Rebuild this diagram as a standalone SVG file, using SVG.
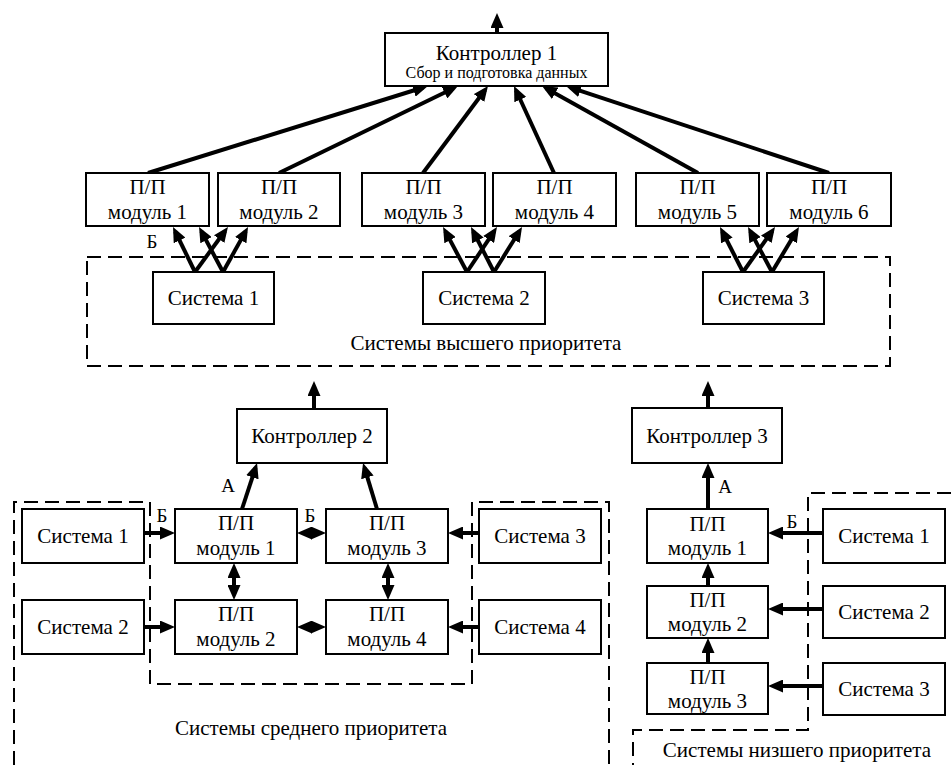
<svg xmlns="http://www.w3.org/2000/svg" width="951" height="765" viewBox="0 0 951 765">
<style>
.box{fill:#fff;stroke:#000;stroke-width:2}
text{font-family:"Liberation Serif","Times New Roman",serif;font-size:21px;text-anchor:middle;fill:#000}
.s{font-size:16px}
.l{font-size:19px}
.dash{fill:none;stroke:#000;stroke-width:2;stroke-dasharray:14 7}
.a{stroke:#000;stroke-width:4;fill:none;marker-end:url(#ah)}
.b{marker-start:url(#ah)}
</style>
<defs>
<marker id="ah" viewBox="0 0 15 13" markerWidth="15" markerHeight="13" refX="10" refY="6.5" orient="auto-start-reverse" markerUnits="userSpaceOnUse">
<path d="M0,0 L15,6.5 L0,13 z" fill="#000"/>
</marker>
</defs>
<g id="regions">
<rect class="dash" x="87" y="257" width="803" height="109"/>
<path class="dash" d="M14,765 V502 H150 V684 H472 V502 H609 V765"/>
<path class="dash" d="M951,493 H808 V730 H633 V765"/>
<text x="486" y="350">Системы высшего приоритета</text>
<text x="311" y="735">Системы среднего приоритета</text>
<text x="797" y="757">Системы низшего приоритета</text>
</g>
<g id="connectors">
<path class="a" d="M497,33 V18"/>
<path class="a" d="M148,173 L423.2,87.5"/>
<path class="a" d="M279,173 L453.5,88.2"/>
<path class="a" d="M423,173 L485,90"/>
<path class="a" d="M554,173 L516.1,90.5"/>
<path class="a" d="M698,173 L546.4,88.4"/>
<path class="a" d="M829,173 L570.7,87.6"/>
<path class="a" d="M195,272 L175.2,231.5"/>
<path class="a" d="M195,272 L225,231"/>
<path class="a" d="M223,272 L201.4,231.4"/>
<path class="a" d="M223,272 L245.6,231.4"/>
<path class="a" d="M467,272 L445.4,231.4"/>
<path class="a" d="M467,272 L494.2,231.2"/>
<path class="a" d="M494,272 L473.3,231.5"/>
<path class="a" d="M494,272 L519.4,231.2"/>
<path class="a" d="M743,272 L722.3,231.5"/>
<path class="a" d="M743,272 L772.1,231.1"/>
<path class="a" d="M772,272 L750.4,231.4"/>
<path class="a" d="M772,272 L796.4,231.3"/>
<path class="a" d="M314,409 V386"/>
<path class="a" d="M708,408 V386"/>
<path class="a" d="M242,509 L255.5,467.8"/>
<path class="a" d="M377,509 L364.5,467.8"/>
<path class="a" d="M144,533 H170"/>
<path class="a" d="M144,627 H170"/>
<path class="a" d="M479,533 H453"/>
<path class="a" d="M479,627 H453"/>
<path class="a b" d="M302,533 H321"/>
<path class="a b" d="M302,627 H321"/>
<path class="a b" d="M234,568 V595"/>
<path class="a b" d="M388,568 V595"/>
<path class="a" d="M708,509 V468"/>
<path class="a" d="M823,533 H773"/>
<path class="a" d="M823,609 H773"/>
<path class="a" d="M823,686 H773"/>
<path class="a" d="M708,586 V568"/>
<path class="a" d="M708,663 V643"/>
<text class="l" x="152" y="248">Б</text>
<text class="l" x="228" y="492">А</text>
<text class="l" x="162" y="522">Б</text>
<text class="l" x="310" y="522">Б</text>
<text class="l" x="725" y="493">А</text>
<text class="l" x="792" y="528">Б</text>
</g>
<g id="ctrl1"><rect class="box" x="385" y="33" width="223" height="53"/><text x="496.5" y="60">Контроллер 1</text><text class="s" x="496.5" y="78">Сбор и подготовка данных</text></g>
<g id="pm1"><rect class="box" x="86" y="173" width="123" height="53"/><text x="147.5" y="194">П/П</text><text x="147.5" y="219">модуль 1</text></g>
<g id="pm2"><rect class="box" x="218" y="173" width="122" height="53"/><text x="279" y="194">П/П</text><text x="279" y="219">модуль 2</text></g>
<g id="pm3"><rect class="box" x="362" y="173" width="123" height="53"/><text x="423.5" y="194">П/П</text><text x="423.5" y="219">модуль 3</text></g>
<g id="pm4"><rect class="box" x="493" y="173" width="123" height="53"/><text x="554.5" y="194">П/П</text><text x="554.5" y="219">модуль 4</text></g>
<g id="pm5"><rect class="box" x="636" y="173" width="123" height="53"/><text x="697.5" y="194">П/П</text><text x="697.5" y="219">модуль 5</text></g>
<g id="pm6"><rect class="box" x="767" y="173" width="124" height="53"/><text x="829" y="194">П/П</text><text x="829" y="219">модуль 6</text></g>
<g id="hs1"><rect class="box" x="153" y="272" width="121" height="52"/><text x="213.5" y="305">Система 1</text></g>
<g id="hs2"><rect class="box" x="423" y="272" width="122" height="52"/><text x="484" y="305">Система 2</text></g>
<g id="hs3"><rect class="box" x="703" y="272" width="121" height="52"/><text x="763.5" y="305">Система 3</text></g>
<g id="ctrl2"><rect class="box" x="237" y="409" width="150" height="54"/><text x="312" y="443">Контроллер 2</text></g>
<g id="ctrl3"><rect class="box" x="632" y="408" width="150" height="55"/><text x="707" y="443">Контроллер 3</text></g>
<g id="ms1"><rect class="box" x="22" y="509" width="122" height="54"/><text x="83" y="543">Система 1</text></g>
<g id="mm1"><rect class="box" x="175" y="509" width="122" height="54"/><text x="236" y="530">П/П</text><text x="236" y="555">модуль 1</text></g>
<g id="mm3"><rect class="box" x="326" y="509" width="122" height="54"/><text x="387" y="530">П/П</text><text x="387" y="555">модуль 3</text></g>
<g id="ms3"><rect class="box" x="479" y="509" width="122" height="54"/><text x="540" y="543">Система 3</text></g>
<g id="ms2"><rect class="box" x="22" y="600" width="122" height="54"/><text x="83" y="634">Система 2</text></g>
<g id="mm2"><rect class="box" x="175" y="600" width="122" height="54"/><text x="236" y="621">П/П</text><text x="236" y="646">модуль 2</text></g>
<g id="mm4"><rect class="box" x="326" y="600" width="122" height="54"/><text x="387" y="621">П/П</text><text x="387" y="646">модуль 4</text></g>
<g id="ms4"><rect class="box" x="479" y="600" width="122" height="54"/><text x="540" y="634">Система 4</text></g>
<g id="rm1"><rect class="box" x="647" y="509" width="121" height="54"/><text x="707.5" y="531">П/П</text><text x="707.5" y="555">модуль 1</text></g>
<g id="rm2"><rect class="box" x="647" y="586" width="121" height="52"/><text x="707.5" y="607">П/П</text><text x="707.5" y="631">модуль 2</text></g>
<g id="rm3"><rect class="box" x="647" y="663" width="121" height="51"/><text x="707.5" y="684">П/П</text><text x="707.5" y="708">модуль 3</text></g>
<g id="rs1"><rect class="box" x="823" y="509" width="122" height="54"/><text x="884" y="543">Система 1</text></g>
<g id="rs2"><rect class="box" x="823" y="586" width="122" height="52"/><text x="884" y="619">Система 2</text></g>
<g id="rs3"><rect class="box" x="823" y="663" width="122" height="52"/><text x="884" y="696">Система 3</text></g>
</svg>
